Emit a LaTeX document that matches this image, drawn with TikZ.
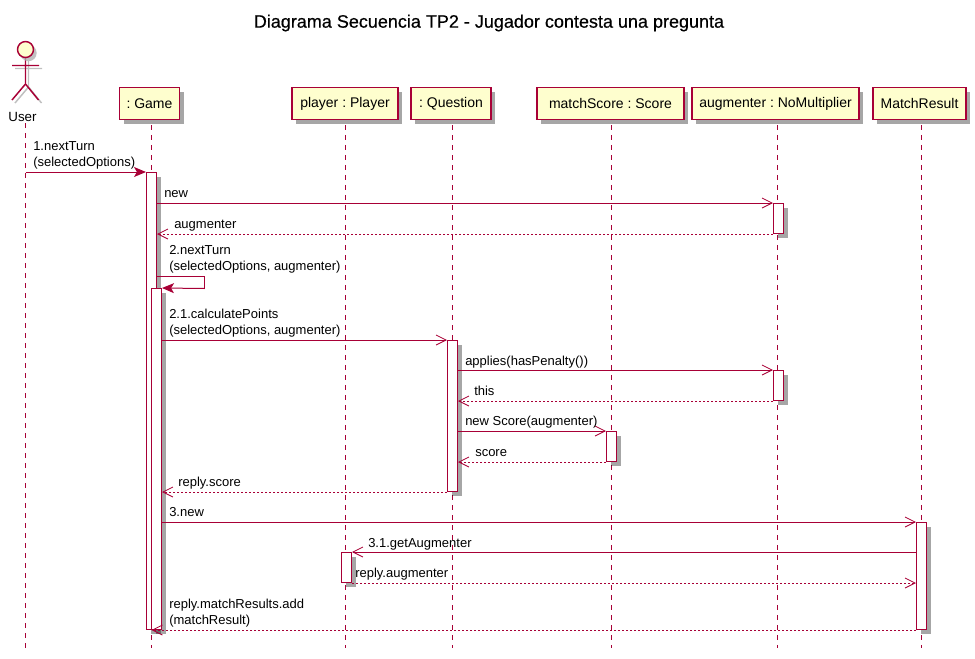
\documentclass[tikz,border=0pt]{standalone}
\usepackage{fontspec}
\setmainfont{Liberation Sans}
\usetikzlibrary{arrows.meta,shadows}
\definecolor{pu}{HTML}{A80036}
\definecolor{pubg}{HTML}{FEFECE}
\tikzset{
  x=0.75pt,y=-0.75pt,
  sd/.style={drop shadow={shadow xshift=3pt,shadow yshift=-3pt,fill=black,opacity=.35}},
  partbox/.style={draw=pu,fill=pubg,line width=1.1pt,sd,inner sep=0pt,minimum height=24pt,font=\fontsize{10.5}{12}\selectfont\frenchspacing},
  bar/.style={draw=pu,fill=white,line width=.75pt,sd,inner sep=0pt,minimum width=7.5pt},
  life/.style={draw=pu,line width=.75pt,dash pattern=on 3.75pt off 3.75pt},
  sync/.style={draw=pu,line width=.75pt,-{Stealth[length=9pt,width=7.5pt,inset=2.2pt]}},
  ret/.style={draw=pu,line width=.75pt,-{Straight Barb[length=7.5pt,width=7.5pt,line width=.6pt]}},
  retd/.style={ret,dash pattern=on 1.5pt off 1.5pt},
  lbl/.style={anchor=south west,inner sep=0pt,align=left,font=\fontsize{9.75}{12}\selectfont\frenchspacing},
}
\begin{document}
\begin{tikzpicture}
\useasboundingbox (0,0) rectangle (975,658);
\node[font=\fontsize{13.5}{16}\selectfont\addfontfeature{FakeBold=0.5},inner sep=0pt] (title) at (489,23) {Diagrama Secuencia TP2 - Jugador contesta una pregunta};
% actor
\begin{scope}[draw=pu,line width=1.1pt]
\foreach \o/\c in {3/black!25,0/pu}{
  \begin{scope}[shift={(\o,\o)},draw=\c]
    \draw (25.5,58) -- (25.5,84) -- (12,100) (25.5,84) -- (38.5,100) (12,65.5) -- (39,65.5);
  \end{scope}
}
\fill[black!30,opacity=.8] (28.5,53) circle[radius=8.2*.75pt];
\node[circle,draw=pu,fill=pubg,line width=1.1pt,minimum size=12pt,inner sep=0pt] (head) at (25.5,49.5) {};
\end{scope}
\node[font=\fontsize{10}{12}\selectfont,inner sep=0pt] (user) at (22.5,116.5) {User};
% participants
\node[partbox,minimum width=45pt] (game) at (149.5,103.5) {: Game};
\node[partbox,minimum width=79.5pt] (player) at (345,103.5) {player : Player};
\node[partbox,minimum width=60pt] (question) at (451,103.5) {: Question};
\node[partbox,minimum width=110.25pt] (score) at (610.5,103.5) {matchScore : Score};
\node[partbox,minimum width=125.25pt] (aug) at (775.5,103.5) {augmenter : NoMultiplier};
\node[partbox,minimum width=69.75pt] (result) at (919.5,103.5) {MatchResult};
% lifeline ends
\coordinate (uE) at (25.5,648);
\coordinate (gE) at (151.5,648);
\coordinate (pE) at (345.5,648);
\coordinate (qE) at (452.5,648);
\coordinate (sE) at (611.5,648);
\coordinate (aE) at (777.5,648);
\coordinate (rE) at (921.5,648);
\draw[life] (uE |- user.south) ++(0,2) -- (uE);
\draw[life] (gE |- game.south) ++(0,5) -- (gE);
\draw[life] (pE |- player.south) ++(0,5) -- (pE);
\draw[life] (qE |- question.south) ++(0,5) -- (qE);
\draw[life] (sE |- score.south) ++(0,5) -- (sE);
\draw[life] (aE |- aug.south) ++(0,5) -- (aE);
\draw[life] (rE |- result.south) ++(0,5) -- (rE);
% activations
\node[bar,minimum height=342.75pt] (g1) at (151.5,401) {};
\node[bar,minimum height=255.75pt] (g2) at (156.5,459) {};
\node[bar,minimum height=22.5pt] (a1) at (778.5,218.5) {};
\node[bar,minimum height=113.25pt] (q1) at (452.5,416) {};
\node[bar,minimum height=22.5pt] (a2) at (778.5,385.5) {};
\node[bar,minimum height=22.5pt] (s1) at (611.5,446.5) {};
\node[bar,minimum height=80.25pt] (r1) at (921.5,576) {};
\node[bar,minimum height=22.5pt] (p1) at (346.5,567.5) {};
% messages
\coordinate (u1) at (uE |- g1.north);
\draw[sync] (u1) -- (g1.north west);
\node[lbl] (m1) at (33,172) {\strut 1.nextTurn\\\strut(selectedOptions)};
\draw[ret] (g1.east |- a1.north) -- (a1.north west);
\node[lbl] (m2) at (164,203) {\strut new};
\draw[retd] (a1.south west) -- (g1.east |- a1.south);
\node[lbl] (m3) at (174,234) {\strut augmenter};
\coordinate (s1a) at (204.5,276.5);
\coordinate (s1b) at (204.5,288.5);
\draw[draw=pu,line width=.75pt] (g1.east |- s1a) -- (s1a) -- (s1b);
\draw[sync] (s1b) -- (g2.north east);
\node[lbl] (m4) at (169,276) {\strut 2.nextTurn\\\strut(selectedOptions, augmenter)};
\draw[ret] (g2.east |- q1.north) -- (q1.north west);
\node[lbl] (m5) at (169,340) {\strut 2.1.calculatePoints\\\strut(selectedOptions, augmenter)};
\draw[ret] (q1.east |- a2.north) -- (a2.north west);
\node[lbl] (m6) at (465,370.5) {\strut applies(hasPenalty())};
\draw[retd] (a2.south west) -- (q1.east |- a2.south);
\node[lbl] (m7) at (474,401) {\strut this};
\draw[ret] (q1.east |- s1.north) -- (s1.north west);
\node[lbl] (m8) at (465,431) {\strut new Score(augmenter)};
\draw[retd] (s1.south west) -- (q1.east |- s1.south);
\node[lbl] (m9) at (475,461.5) {\strut score};
\draw[retd] (q1.south west) -- (g2.east |- q1.south);
\node[lbl] (m10) at (178,491.5) {\strut reply.score};
\draw[ret] (g2.east |- r1.north) -- (r1.north west);
\node[lbl] (m11) at (169,522) {\strut 3.new};
\draw[ret] (r1.west |- p1.north) -- (p1.north east);
\node[lbl] (m12) at (368,552.5) {\strut 3.1.getAugmenter};
\draw[retd] (p1.south east) -- (r1.west |- p1.south);
\node[lbl] (m13) at (355,583) {\strut reply.augmenter};
\draw[retd] (r1.south west) -- (g1.south -| gE);
\node[lbl] (m14) at (169,629.5) {\strut reply.matchResults.add\\\strut(matchResult)};
\end{tikzpicture}
\end{document}
